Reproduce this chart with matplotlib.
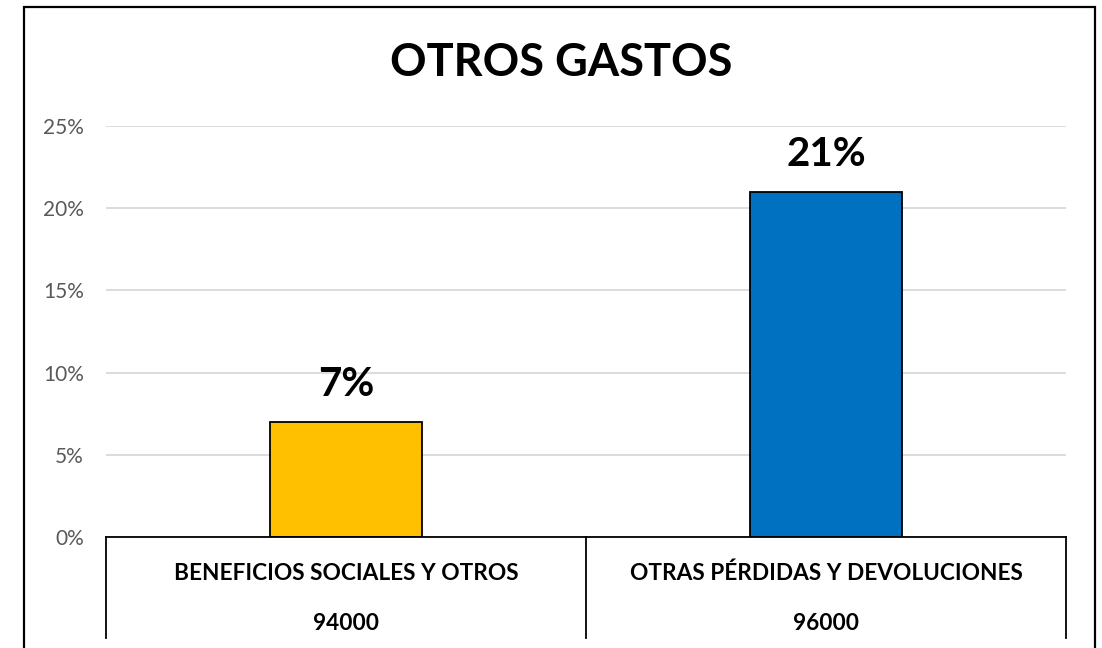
import matplotlib
matplotlib.use("Agg")
import matplotlib.pyplot as plt
from matplotlib.patches import Rectangle
import matplotlib.transforms as mtransforms

# data
categorias = ["BENEFICIOS SOCIALES Y OTROS", "OTRAS PÉRDIDAS Y DEVOLUCIONES"]
codigos = ["94000", "96000"]
porcentajes = [7, 21]
colores = ["#FFC000", "#0070C0"]
yticks = [0, 5, 10, 15, 20, 25]

plt.rcParams['font.family'] = ['Lato', 'DejaVu Sans']

W, H = 1102, 648
fig = plt.figure(figsize=(W / 100, H / 100), dpi=100)
ax = fig.add_axes([106 / W, 1 - 537 / H, (1066 - 106) / W, (537 - 126) / H])

x = range(len(categorias))
ax.bar(x, porcentajes, width=0.315, color=colores, edgecolor="black", linewidth=1.3, zorder=3)
ax.set_xlim(-0.5, len(categorias) - 0.5)
ax.set_ylim(0, 25)
ax.set_yticks(yticks)
ax.set_yticklabels([f"{v}%" for v in yticks], fontsize=15, color="#595959")
ax.tick_params(axis="y", length=0, pad=16)
ax.tick_params(axis="x", length=0, labelbottom=False)
ax.grid(axis="y", color="#D9D9D9", linewidth=1.3, zorder=0)
for s in ["top", "right", "left"]:
    ax.spines[s].set_visible(False)
ax.spines["bottom"].set_linewidth(1.3)
ax.spines["bottom"].set_zorder(4)

# data labels
for i, v in enumerate(porcentajes):
    ax.annotate(f"{v}%", (i, v), xytext=(0, 18.5), textcoords="offset points",
                ha="center", va="baseline", fontsize=29, fontweight="bold")

# category table under the axis
trans = mtransforms.blended_transform_factory(ax.transData, ax.transAxes)
depth = 101 / (537 - 126)
for xv in [-0.5, 0.5, 1.5]:
    ax.plot([xv, xv], [0, -depth], transform=trans, color="black", linewidth=1.3, clip_on=False)
for i, (c, k) in enumerate(zip(categorias, codigos)):
    ax.text(i, -36 / 411, c, transform=trans, ha="center", va="center", fontsize=16.3, fontweight="bold")
    ax.text(i, -86 / 411, k, transform=trans, ha="center", va="center", fontsize=16.3, fontweight="bold")

fig.text(561 / W, 1 - 63 / H, "OTROS GASTOS", ha="center", va="center", fontsize=32.5, fontweight="bold")

# chart border
fig.patches.append(Rectangle((24 / W, -0.1), (1095 - 24) / W, 1.1 - 7 / H, transform=fig.transFigure,
                             fill=False, edgecolor="black", linewidth=1.6))

fig.savefig("out.png", dpi=100)
